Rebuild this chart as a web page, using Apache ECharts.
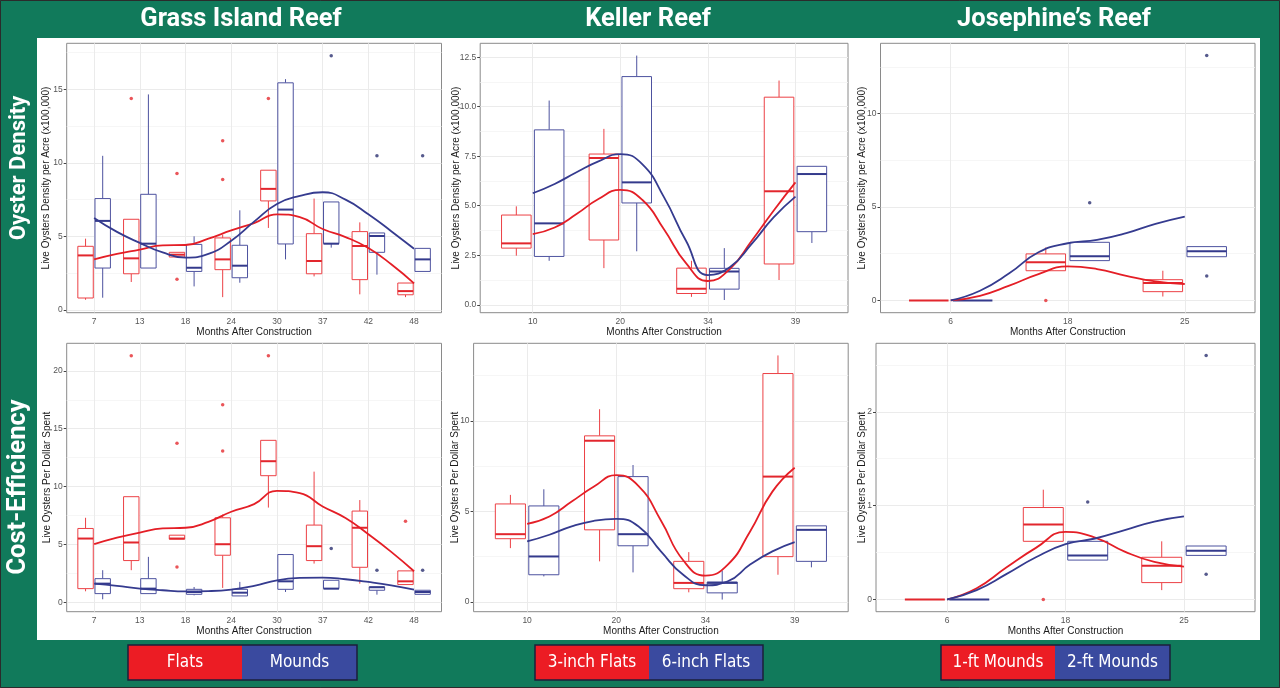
<!DOCTYPE html>
<html><head><meta charset="utf-8">
<script src="https://cdn.jsdelivr.net/npm/echarts@6/dist/echarts.min.js"></script>
<style>html,body{margin:0;padding:0;background:#117a5b}#c{width:1280px;height:688px}</style>
</head><body><div id="c"></div>
<script>
// ---------- categories ----------
const grassMonths = ['7','13','18','24','30','37','42','48'];
const kellerMonths = ['10','20','34','39'];
const josephineMonths = ['6','18','25'];

// ---------- box stats: [lowerWhisker, q1, median, q3, upperWhisker] ----------
// Grass Island – density
const grassDensityFlats = [[0.68,0.80,3.70,4.32,4.84],[1.89,2.45,3.50,6.16,6.16],[3.59,3.59,3.75,3.91,3.91],[0.86,2.73,3.43,4.89,5.11],[5.57,7.41,8.23,9.50,9.50],[2.27,2.45,3.32,5.18,7.57],[1.05,2.05,4.34,5.32,5.95],[0.86,1.02,1.27,1.82,1.82]];
const grassDensityFlatsOut = [[2,14.39],[3,9.27],[3,2.07],[4,11.5],[4,8.86],[5,14.39]];
const grassDensityMounds = [[0.82,2.84,6.05,7.57,10.48],[2.84,2.84,4.50,7.86,14.66],[1.59,2.61,2.86,4.45,5.00],[1.84,2.18,3.00,4.39,6.77],[3.43,4.48,6.82,15.45,15.70],[4.23,4.50,4.50,7.34,7.34],[2.39,3.91,5.02,5.23,5.23],[2.61,2.61,3.43,4.18,4.18]];
const grassDensityMoundsOut = [[6,17.3],[7,10.48],[8,10.48]];
const grassDensityFlatsSmooth = [[1,3.43],[1.5,3.8],[2,4.09],[2.5,4.39],[3,4.41],[3.5,4.84],[4,5.4],[4.5,5.9],[5,6.5],[5.5,6.3],[6,5.5],[6.5,4.95],[7,4.2],[7.5,3.1],[8,1.8]];
const grassDensityMoundsSmooth = [[1,6.25],[1.5,5.3],[2,4.55],[2.5,3.9],[3,3.55],[3.5,3.8],[4,4.7],[4.5,6.0],[5,7.2],[5.5,7.75],[6,8.0],[6.5,7.5],[7,6.5],[7.5,5.35],[8,4.15]];

// Grass Island – cost efficiency
const grassCostFlats = [[0.98,1.21,5.53,6.40,7.32],[2.80,3.63,5.19,9.14,9.14],[5.48,5.48,5.53,5.82,5.82],[1.27,4.09,5.04,7.32,7.60],[8.20,10.95,12.20,14.00,14.00],[3.37,3.63,4.87,6.69,11.30],[1.64,3.05,6.46,7.90,8.85],[1.56,1.56,1.84,2.74,2.74]];
const grassCostFlatsOut = [[2,21.3],[3,13.75],[3,3.08],[4,17.06],[4,13.08],[5,21.3],[8,7.03]];
const grassCostMounds = [[0.29,0.78,1.64,2.07,2.80],[0.78,0.78,1.21,2.07,3.95],[0.63,0.72,0.92,1.15,1.35],[0.58,0.58,0.86,1.15,1.79],[0.92,1.15,1.84,4.15,4.15],[1.21,1.21,1.21,1.93,1.93],[0.69,1.07,1.33,1.35,1.35],[0.72,0.72,0.92,1.07,1.07]];
const grassCostMoundsOut = [[6,4.67],[7,2.8],[8,2.8]];
const grassCostFlatsSmooth = [[1,5.04],[1.5,5.6],[2,6.05],[2.5,6.4],[3,6.46],[3.5,6.97],[4,7.84],[4.5,8.5],[5,9.65],[5.5,9.45],[6,8.3],[6.5,7.3],[7,5.9],[7.5,4.38],[8,2.71]];
const grassCostMoundsSmooth = [[1,1.64],[1.5,1.44],[2,1.21],[2.5,1.07],[3,0.98],[3.5,1.0],[4,1.12],[4.5,1.44],[5,1.93],[5.5,2.13],[6,2.16],[6.5,2.02],[7,1.79],[7.5,1.5],[8,1.12]];

// Keller – density
const kellerDensity3in = [[2.48,2.86,3.10,4.53,4.97],[1.85,3.27,7.41,7.61,8.88],[0.40,0.57,0.81,1.85,2.22],[1.25,2.06,5.73,10.48,11.32]];
const kellerDensity6in = [[2.22,2.44,4.11,8.83,10.31],[2.70,5.14,6.18,11.52,12.58],[0.24,0.79,1.68,1.84,2.86],[3.12,3.69,6.60,6.99,6.99]];
const kellerDensity3inSmooth = [[1,3.57],[1.25,3.9],[1.5,4.58],[1.75,5.34],[2,5.8],[2.25,5.3],[2.5,3.8],[2.75,2.1],[3,1.2],[3.25,1.8],[3.5,3.23],[3.75,4.75],[4,6.18]];
const kellerDensity6inSmooth = [[1,5.63],[1.25,6.1],[1.5,6.69],[1.75,7.24],[2,7.61],[2.25,7.1],[2.5,5.42],[2.75,3.23],[3,1.5],[3.25,1.89],[3.5,3.07],[3.75,4.41],[4,5.46]];

// Keller – cost efficiency
const kellerCost3in = [[2.97,3.49,3.74,5.41,5.91],[2.24,3.98,8.90,9.17,10.64],[0.53,0.73,1.05,2.24,2.75],[1.50,2.50,6.92,12.61,13.61]];
const kellerCost6in = [[1.41,1.50,2.51,5.30,6.22],[1.63,3.10,3.74,6.92,7.56],[0.13,0.50,1.05,1.10,1.72],[1.91,2.24,3.98,4.20,4.20]];
const kellerCost3inSmooth = [[1,4.31],[1.25,4.72],[1.5,5.54],[1.75,6.37],[2,7.0],[2.25,6.4],[2.5,4.5],[2.75,2.3],[3,1.45],[3.25,2.06],[3.5,3.89],[3.75,6.09],[4,7.41]];
const kellerCost6inSmooth = [[1,3.34],[1.25,3.71],[1.5,4.17],[1.75,4.48],[2,4.59],[2.25,4.17],[2.5,2.79],[2.75,1.5],[3,0.92],[3.25,1.14],[3.5,2.06],[3.75,2.79],[4,3.3]];

// Josephine – density
const josDensity1ft = [[0,0,0,0,0],[1.59,1.59,2.04,2.49,2.84],[0.21,0.47,0.93,1.11,1.59]];
const josDensity1ftOut = [[2,0]];
const josDensity2ft = [[0,0,0,0,0],[2.13,2.13,2.36,3.11,3.11],[2.34,2.34,2.63,2.88,2.88]];
const josDensity2ftOut = [[2,5.22],[3,13.1],[3,1.31]];
const josDensity1ftSmooth = [[1,0],[1.25,0.25],[1.5,0.79],[1.75,1.41],[2,1.82],[2.25,1.68],[2.5,1.32],[2.75,1.02],[3,0.88]];
const josDensity2ftSmooth = [[1,0],[1.25,0.52],[1.5,1.45],[1.75,2.58],[2,3.06],[2.25,3.24],[2.5,3.6],[2.75,4.1],[3,4.49]];

// Josephine – cost efficiency
const josCost1ft = [[0,0,0,0,0],[0.62,0.62,0.80,0.98,1.17],[0.10,0.18,0.36,0.45,0.62]];
const josCost1ftOut = [[2,0]];
const josCost2ft = [[0,0,0,0,0],[0.42,0.42,0.47,0.62,0.62],[0.47,0.47,0.52,0.57,0.57]];
const josCost2ftOut = [[2,1.04],[3,2.6],[3,0.27]];
const josCost1ftSmooth = [[1,0],[1.25,0.12],[1.5,0.34],[1.75,0.55],[2,0.72],[2.25,0.66],[2.5,0.51],[2.75,0.40],[3,0.35]];
const josCost2ftSmooth = [[1,0],[1.25,0.10],[1.5,0.27],[1.75,0.45],[2,0.59],[2.25,0.65],[2.5,0.74],[2.75,0.83],[3,0.885]];

// ---------- texts ----------
const densityTitle = 'Live Oysters Density per Acre (x100,000)';
const costTitle = 'Live Oysters Per Dollar Spent';
const xTitle = 'Months After Construction';
const reefNames = ['Grass Island Reef', 'Keller Reef', 'Josephine\u2019s Reef'];
const rowNames = ['Oyster Density', 'Cost-Efficiency'];
const legendPairs = [['Flats','Mounds'],['3-inch Flats','6-inch Flats'],['1-ft Mounds','2-ft Mounds']];

// ---------- styles ----------
const RED_BOX = '#ec4045', BLUE_BOX = '#4d529f';
const RED_MED = '#e2262d', BLUE_MED = '#343a8c';
const RED_LINE = '#e41e26', BLUE_LINE = '#353b8f';
const RED_PT = '#e52a30', BLUE_PT = '#2c3170';
const OFFSET = 0.1875, BOXW = 0.3375;

const panels = [
  {grid:{left:66.7,top:43.3,width:374.8,height:269.4}, cats:grassMonths, ymin:-0.2, ymax:18.14, yt:[0,5,10,15], ym:[2.5,7.5,12.5,17.5], fmt:v=>String(v), yname:densityTitle, gap:15.7,
   A:[grassDensityFlats,grassDensityFlatsOut,grassDensityFlatsSmooth], B:[grassDensityMounds,grassDensityMoundsOut,grassDensityMoundsSmooth]},
  {grid:{left:480.2,top:43.3,width:367.8,height:269.4}, cats:kellerMonths, ymin:-0.4, ymax:13.2, yt:[0,2.5,5,7.5,10,12.5], ym:[1.25,3.75,6.25,8.75,11.25], fmt:v=>v.toFixed(1), yname:densityTitle, gap:19,
   A:[kellerDensity3in,[],kellerDensity3inSmooth], B:[kellerDensity6in,[],kellerDensity6inSmooth]},
  {grid:{left:880.5,top:43.3,width:374.5,height:269.4}, cats:josephineMonths, ymin:-0.655, ymax:13.755, yt:[0,5,10], ym:[2.5,7.5,12.5], fmt:v=>String(v), yname:densityTitle, gap:13.5,
   A:[josDensity1ft,josDensity1ftOut,josDensity1ftSmooth], B:[josDensity2ft,josDensity2ftOut,josDensity2ftSmooth]},
  {grid:{left:66.7,top:343.3,width:374.8,height:268.4}, cats:grassMonths, ymin:-0.78, ymax:22.37, yt:[0,5,10,15,20], ym:[2.5,7.5,12.5,17.5], fmt:v=>String(v), yname:costTitle, gap:14.7,
   A:[grassCostFlats,grassCostFlatsOut,grassCostFlatsSmooth], B:[grassCostMounds,grassCostMoundsOut,grassCostMoundsSmooth]},
  {grid:{left:473.6,top:343.3,width:374.6,height:268.4}, cats:kellerMonths, ymin:-0.54, ymax:14.28, yt:[0,5,10], ym:[2.5,7.5,12.5], fmt:v=>String(v), yname:costTitle, gap:13.6,
   A:[kellerCost3in,[],kellerCost3inSmooth], B:[kellerCost6in,[],kellerCost6inSmooth]},
  {grid:{left:876,top:343.3,width:379,height:268.4}, cats:josephineMonths, ymin:-0.13, ymax:2.73, yt:[0,1,2], ym:[0.5,1.5,2.5], fmt:v=>String(v), yname:costTitle, gap:8.3,
   A:[josCost1ft,josCost1ftOut,josCost1ftSmooth], B:[josCost2ft,josCost2ftOut,josCost2ftSmooth]}
];

function boxRenderer(color, medColor){
  return function(params, api){
    const x = api.value(0), lo = api.value(1), q1 = api.value(2), med = api.value(3), q3 = api.value(4), hi = api.value(5);
    const a = api.coord([x - BOXW/2, q3]), b = api.coord([x + BOXW/2, q1]);
    const m1 = api.coord([x - BOXW/2, med]), m2 = api.coord([x + BOXW/2, med]);
    const t = api.coord([x, hi]), u = api.coord([x, q3]), d = api.coord([x, q1]), bt = api.coord([x, lo]);
    const children = [];
    if (u[1] - t[1] > 0.5) children.push({type:'line', shape:{x1:t[0],y1:t[1],x2:u[0],y2:u[1]}, style:{stroke:color,lineWidth:1}});
    if (bt[1] - d[1] > 0.5) children.push({type:'line', shape:{x1:d[0],y1:d[1],x2:bt[0],y2:bt[1]}, style:{stroke:color,lineWidth:1}});
    if (b[1] - a[1] > 0.5) children.push({type:'rect', shape:{x:a[0],y:a[1],width:b[0]-a[0],height:b[1]-a[1]}, style:{fill:'#ffffff',stroke:color,lineWidth:1}});
    children.push({type:'line', z2:10, shape:{x1:m1[0],y1:m1[1],x2:m2[0],y2:m2[1]}, style:{stroke:medColor,lineWidth:2}});
    return {type:'group', children:children};
  };
}

const grids = [], xAxes = [], yAxes = [], series = [];
const LABEL_FONT = 'Liberation Sans, Arial, sans-serif';
panels.forEach((p, i) => {
  const n = p.cats.length;
  const xt = p.cats.map((c, k) => k + 1);
  grids.push(Object.assign({show:true, backgroundColor:'#ffffff', borderColor:'#8a8a8a', borderWidth:1, containLabel:false}, p.grid));
  xAxes.push({type:'value', gridIndex:i, min:0.4, max:n + 0.6,
    name:xTitle, nameLocation:'middle', nameGap:14.5, nameMoveOverlap:false, nameTextStyle:{fontSize:10, color:'#1a1a1a', fontFamily:LABEL_FONT},
    axisLine:{show:false}, splitLine:{show:false},
    axisTick:{show:true, length:3, lineStyle:{color:'#444'}, customValues:xt},
    axisLabel:{fontSize:8.5, color:'#555', margin:4, fontFamily:LABEL_FONT, customValues:xt, formatter:v => p.cats[Math.round(v) - 1]}});
  yAxes.push({type:'value', gridIndex:i, min:p.ymin, max:p.ymax,
    name:p.yname, nameLocation:'middle', nameGap:p.gap, nameRotate:90, nameMoveOverlap:false, nameTextStyle:{fontSize:10, color:'#1a1a1a', fontFamily:LABEL_FONT},
    axisLine:{show:false}, splitLine:{show:false},
    axisTick:{show:true, length:3, lineStyle:{color:'#444'}, customValues:p.yt},
    axisLabel:{fontSize:8.5, color:'#555', margin:4, fontFamily:LABEL_FONT, customValues:p.yt, formatter:p.fmt}});
  const gl = [];
  p.ym.forEach(v => gl.push({yAxis:v, lineStyle:{color:'#f4f4f4', width:0.8, type:'solid'}}));
  p.yt.forEach(v => gl.push({yAxis:v, lineStyle:{color:'#ebebeb', width:1, type:'solid'}}));
  xt.forEach(v => gl.push({xAxis:v, lineStyle:{color:'#ebebeb', width:1, type:'solid'}}));
  series.push({type:'line', xAxisIndex:i, yAxisIndex:i, data:[], z:1, silent:true,
    markLine:{z:1, silent:true, symbol:['none','none'], label:{show:false}, animation:false, data:gl}});
  [[p.A, -OFFSET, RED_BOX, RED_MED, RED_PT], [p.B, OFFSET, BLUE_BOX, BLUE_MED, BLUE_PT]].forEach(([g, off, bc, mc, pc]) => {
    const [stats, outs] = g;
    series.push({type:'custom', xAxisIndex:i, yAxisIndex:i, z:3, silent:true, renderItem:boxRenderer(bc, mc),
      encode:{x:0, y:[1,2,3,4,5]}, data:stats.map((s, k) => [k + 1 + off].concat(s))});
    if (outs.length) series.push({type:'scatter', xAxisIndex:i, yAxisIndex:i, z:4, symbolSize:3.5, itemStyle:{color:pc},
      data:outs.map(o => [o[0] + off, o[1]])});
  });
  [[p.A[2], RED_LINE], [p.B[2], BLUE_LINE]].forEach(([sm, lc]) => {
    series.push({type:'line', xAxisIndex:i, yAxisIndex:i, z:6, smooth:0.5, showSymbol:false, symbol:'none',
      lineStyle:{color:lc, width:1.8}, data:sm});
  });
});

const graphic = [
  {type:'rect', zlevel:-1, shape:{x:0.5,y:0.5,width:1279,height:687}, style:{fill:'#117a5b', stroke:'#2b2b2b', lineWidth:1}},
  {type:'rect', zlevel:-1, shape:{x:37,y:38,width:1223,height:602}, style:{fill:'#ffffff'}},
];
const titleX = [241, 648, 1054];
reefNames.forEach((t, k) => graphic.push({type:'text', x:titleX[k], y:20, style:{text:t, fill:'#ffffff', font:'bold 25.5px Roboto, sans-serif', align:'center', verticalAlign:'middle'}}));
const rowY = [168, 487];
const rowSize = [22, 25.5];
rowNames.forEach((t, k) => graphic.push({type:'text', x:19, y:rowY[k], rotation:Math.PI/2, style:{text:t, fill:'#ffffff', font:'bold ' + rowSize[k] + 'px Roboto, sans-serif', align:'center', verticalAlign:'middle'}}));
const legendX = [[128,242,357],[535,649,763],[941,1055,1170]];
legendPairs.forEach((pair, k) => {
  const [x0, x1, x2] = legendX[k];
  graphic.push({type:'rect', shape:{x:x0,y:645,width:x1-x0,height:35}, style:{fill:'#ec1c24'}});
  graphic.push({type:'rect', shape:{x:x1,y:645,width:x2-x1,height:35}, style:{fill:'#3a4a9f'}});
  graphic.push({type:'rect', shape:{x:x0,y:645,width:x2-x0,height:35}, style:{fill:'none', stroke:'#1b1f3b', lineWidth:1.5}});
  graphic.push({type:'text', x:(x0+x1)/2, y:663, style:{text:pair[0], fill:'#ffffff', font:'17px "DejaVu Sans Condensed", "Liberation Sans Narrow", Roboto, sans-serif', align:'center', verticalAlign:'middle'}});
  graphic.push({type:'text', x:(x1+x2)/2, y:663, style:{text:pair[1], fill:'#ffffff', font:'17px "DejaVu Sans Condensed", "Liberation Sans Narrow", Roboto, sans-serif', align:'center', verticalAlign:'middle'}});
});

const chart = echarts.init(document.getElementById('c'), null, {renderer:'canvas'});
chart.setOption({
  backgroundColor:'#117a5b',
  animation:false,
  graphic:graphic,
  grid:grids, xAxis:xAxes, yAxis:yAxes, series:series
});
</script></body></html>
